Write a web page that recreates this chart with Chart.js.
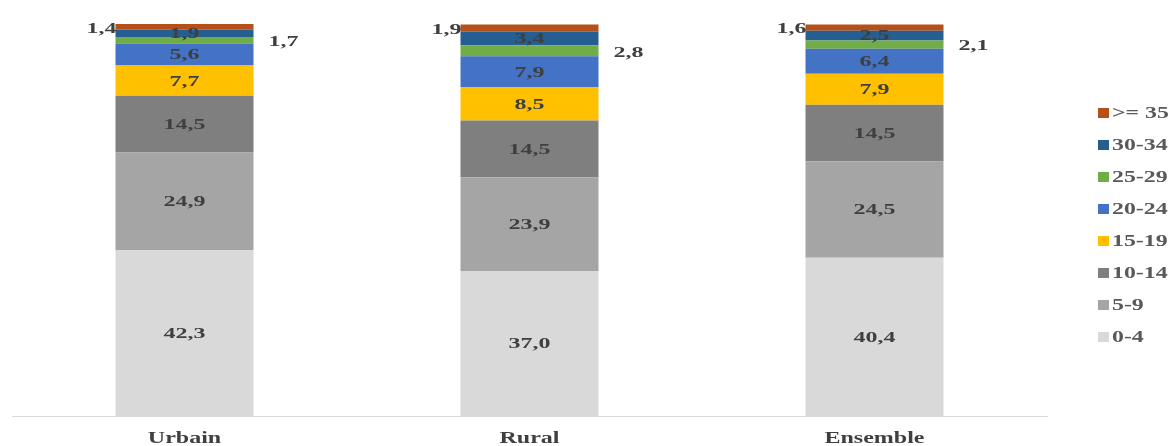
<!DOCTYPE html>
<html>
<head>
<meta charset="utf-8">
<script src="https://cdn.jsdelivr.net/npm/chart.js@4"></script>
<style>
  html, body { margin: 0; padding: 0; background: #fff; }
</style>
</head>
<body>
<canvas id="chart" width="1175" height="446"></canvas>
<script>
const milieux = ["Urbain", "Rural", "Ensemble"];
const groupesAge = ["0-4", "5-9", "10-14", "15-19", "20-24", "25-29", "30-34", ">= 35"];
const couleurs = ["#d9d9d9", "#a5a5a5", "#7f7f7f", "#ffc000", "#4472c4", "#70ad47", "#255e91", "#b5501a"];

const age0_4 = [42.3, 37.0, 40.4];
const age5_9 = [24.9, 23.9, 24.5];
const age10_14 = [14.5, 14.5, 14.5];
const age15_19 = [7.7, 8.5, 7.9];
const age20_24 = [5.6, 7.9, 6.4];
const age25_29 = [1.7, 2.8, 2.1];
const age30_34 = [1.9, 3.4, 2.5];
const age35plus = [1.4, 1.9, 1.6];

const series = [age0_4, age5_9, age10_14, age15_19, age20_24, age25_29, age30_34, age35plus];

// où placer l'étiquette : dedans, à gauche ou à droite de la barre
const placement = ["in", "in", "in", "in", "in", "right", "in", "left"];

const police = '"Liberation Serif", "Times New Roman", serif';
const texteCouleur = "#3f3f3f";

const fmt = v => v.toFixed(1).replace(".", ",");

// écrit un texte élargi horizontalement, ancré à gauche / centre / droite
function texteLarge(ctx, txt, x, y, align, etirement = 1.6) {
  const w = ctx.measureText(txt).width * etirement;
  let gauche = x;
  if (align === "center") gauche = x - w / 2;
  else if (align === "right") gauche = x - w;
  ctx.save();
  ctx.translate(gauche, y);
  ctx.scale(etirement, 1);
  ctx.textAlign = "left";
  ctx.fillText(txt, 0, 0);
  ctx.restore();
}

const etiquettes = {
  id: "etiquettes",
  afterDatasetsDraw(chart) {
    const ctx = chart.ctx;
    ctx.save();
    ctx.font = "bold 15px " + police;
    ctx.fillStyle = texteCouleur;
    ctx.textBaseline = "middle";
    chart.data.datasets.forEach((ds, i) => {
      const meta = chart.getDatasetMeta(i);
      meta.data.forEach((bar, j) => {
        const p = bar.getProps(["x", "y", "base", "width"], true);
        const yc = (p.y + p.base) / 2;
        const txt = fmt(ds.data[j]);
        if (placement[i] === "left") {
          texteLarge(ctx, txt, p.x - p.width / 2 + 1, yc + 2, "right");
        } else if (placement[i] === "right") {
          texteLarge(ctx, txt, p.x + p.width / 2 + 15, yc + 2, "left");
        } else {
          texteLarge(ctx, txt, p.x, yc + 1, "center");
        }
      });
    });

    // noms des milieux sous l'axe
    const x = chart.scales.x;
    ctx.font = "bold 16px " + police;
    milieux.forEach((nom, k) => {
      texteLarge(ctx, nom, x.getPixelForValue(k), 439, "center", 1.5);
    });
    ctx.restore();
  }
};

// légende à droite, ordre inversé comme dans la pile
const legende = {
  id: "legende",
  afterDraw(chart) {
    const ctx = chart.ctx;
    ctx.save();
    ctx.font = "bold 17px " + police;
    ctx.textBaseline = "middle";
    const x = 1098, y0 = 113, pas = 32;
    for (let k = 0; k < groupesAge.length; k++) {
      const i = groupesAge.length - 1 - k;
      const y = y0 + k * pas;
      ctx.fillStyle = couleurs[i];
      ctx.fillRect(x, y - 5, 11, 10);
      ctx.fillStyle = "#595959";
      texteLarge(ctx, groupesAge[i], x + 14, y + 1, "left", 1.4);
    }
    ctx.restore();
  }
};

new Chart(document.getElementById("chart"), {
  type: "bar",
  data: {
    labels: milieux,
    datasets: series.map((vals, i) => ({
      label: groupesAge[i],
      data: vals,
      backgroundColor: couleurs[i],
      borderWidth: 0,
      barPercentage: 0.4,
      categoryPercentage: 1
    }))
  },
  options: {
    responsive: false,
    animation: false,
    layout: { padding: { left: 12, right: 128, top: 24, bottom: 22 } },
    plugins: {
      legend: { display: false },
      tooltip: { enabled: false }
    },
    scales: {
      x: {
        stacked: true,
        grid: { display: false },
        border: { display: true, color: "#d9d9d9", width: 1 },
        ticks: { display: false }
      },
      y: {
        stacked: true,
        display: false,
        min: 0,
        max: 100
      }
    }
  },
  plugins: [etiquettes, legende]
});
</script>
</body>
</html>
